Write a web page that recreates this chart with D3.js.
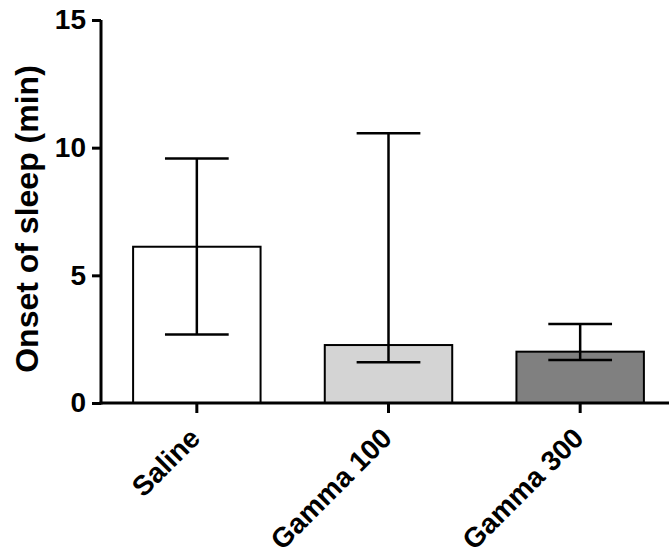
<!DOCTYPE html>
<html>
<head>
<meta charset="utf-8">
<script src="https://cdn.jsdelivr.net/npm/d3@7"></script>
<style>
  body { margin: 0; background: #fff; }
  svg text { font-family: "Liberation Sans", Arial, sans-serif; font-weight: bold; }
</style>
</head>
<body>
<div id="chart"></div>
<script>
// data
const groups = ["Saline", "Gamma 100", "Gamma 300"];
const means = [6.12, 2.27, 2.01];
const errLow = [2.68, 1.60, 1.68];
const errHigh = [9.58, 10.56, 3.09];
const fills = ["#ffffff", "#d4d4d4", "#808080"];
const yTicks = [0, 5, 10, 15];

const width = 669, height = 560;
const plotLeft = 101, plotTop = 20, plotBottom = 403;

const svg = d3.select("#chart").append("svg")
  .attr("width", width)
  .attr("height", height);

const x = d3.scaleBand().domain(groups).range([plotLeft, 676]).padding(0);
const y = d3.scaleLinear().domain([0, 15]).range([plotBottom, plotTop]);

const barW = x.bandwidth() * 0.665;
const capW = barW / 2;

// bars
svg.selectAll("rect.bar")
  .data(groups)
  .join("rect")
  .attr("class", "bar")
  .attr("x", d => x(d) + (x.bandwidth() - barW) / 2)
  .attr("y", (d, i) => y(means[i]))
  .attr("width", barW)
  .attr("height", (d, i) => y(0) - y(means[i]))
  .attr("fill", (d, i) => fills[i])
  .attr("stroke", "#000")
  .attr("stroke-width", 2);

// error bars
const cx = d => x(d) + x.bandwidth() / 2;
const err = svg.append("g").attr("stroke", "#000").attr("stroke-width", 2.5);
err.selectAll("line.stem")
  .data(groups)
  .join("line")
  .attr("class", "stem")
  .attr("x1", cx).attr("x2", cx)
  .attr("y1", (d, i) => y(errLow[i]))
  .attr("y2", (d, i) => y(errHigh[i]));
err.selectAll("line.capHi")
  .data(groups)
  .join("line")
  .attr("class", "capHi")
  .attr("x1", d => cx(d) - capW / 2).attr("x2", d => cx(d) + capW / 2)
  .attr("y1", (d, i) => y(errHigh[i])).attr("y2", (d, i) => y(errHigh[i]));
err.selectAll("line.capLo")
  .data(groups)
  .join("line")
  .attr("class", "capLo")
  .attr("x1", d => cx(d) - capW / 2).attr("x2", d => cx(d) + capW / 2)
  .attr("y1", (d, i) => y(errLow[i])).attr("y2", (d, i) => y(errLow[i]));

// y axis
const yAxis = svg.append("g")
  .attr("transform", `translate(${plotLeft},0)`)
  .call(d3.axisLeft(y).tickValues(yTicks).tickSize(9).tickPadding(6));
yAxis.select(".domain").attr("stroke-width", 3).attr("d", `M0,${plotTop}V${plotBottom + 1.5}`);
yAxis.selectAll(".tick line").attr("stroke-width", 3);
yAxis.selectAll(".tick text").attr("font-size", 28).attr("fill", "#000");

// x axis
const xAxis = svg.append("g")
  .attr("transform", `translate(0,${plotBottom})`)
  .call(d3.axisBottom(x).tickSize(10).tickFormat(""));
xAxis.select(".domain").attr("stroke-width", 3).attr("d", `M${plotLeft - 1.5},0H${width}`);
xAxis.selectAll(".tick line").attr("stroke-width", 3);

svg.selectAll("text.xlab")
  .data(groups)
  .join("text")
  .attr("class", "xlab")
  .attr("transform", d => `translate(${cx(d) + 5},${plotBottom + 37}) rotate(-45)`)
  .attr("text-anchor", "end")
  .attr("font-size", 28)
  .text(d => d);

// y label
svg.append("text")
  .attr("transform", `translate(38,219) rotate(-90)`)
  .attr("text-anchor", "middle")
  .attr("font-size", 32)
  .text("Onset of sleep (min)");
</script>
</body>
</html>
